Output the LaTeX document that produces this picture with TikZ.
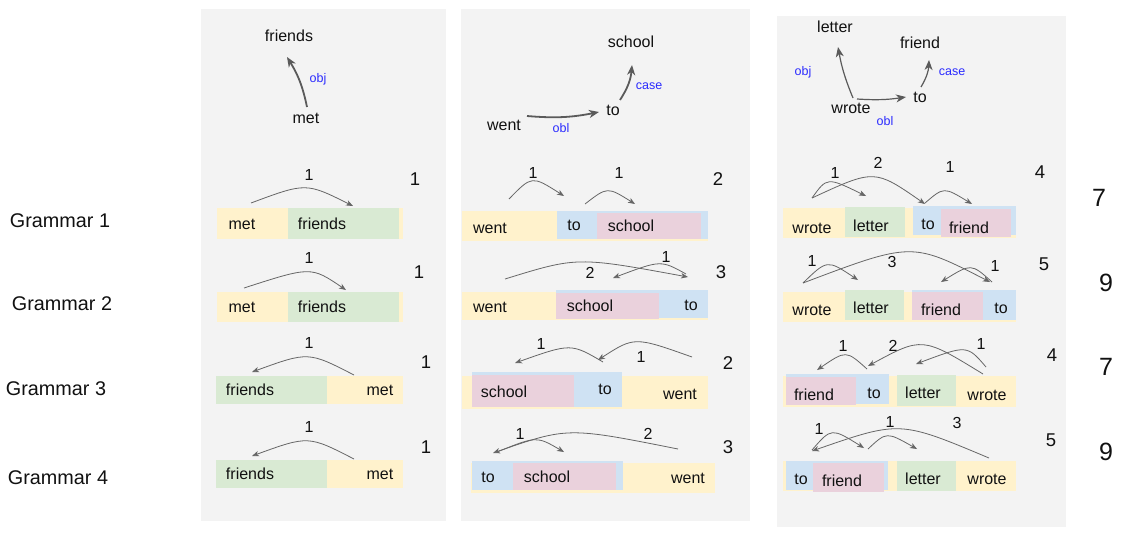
\documentclass[tikz,border=0pt]{standalone}
\usepackage{fontspec}
\setmainfont{Liberation Sans}
\usetikzlibrary{arrows.meta}
\definecolor{panelbg}{HTML}{F3F3F3}
\definecolor{yel}{HTML}{FFF2CC}
\definecolor{grn}{HTML}{D9EAD3}
\definecolor{blu}{HTML}{CFE2F3}
\definecolor{pnk}{HTML}{EAD1DC}
\definecolor{relblue}{HTML}{2B2BFF}
\definecolor{arcgray}{HTML}{666666}
\definecolor{treegray}{HTML}{5A5A5A}
\definecolor{txt}{HTML}{111111}
\newcounter{arcn}
\newcommand\darc[6]{\stepcounter{arcn}%
 \coordinate (as\thearcn) at (#1,#2);\coordinate (ae\thearcn) at (#5,#6);%
 \pgfmathsetmacro\arcCX{(#3-0.125*(#1+#5))/0.75}%
 \pgfmathsetmacro\arcCY{(#4-0.125*(#2+#6))/0.75}%
 \draw[deparc] (as\thearcn) .. controls (\arcCX,\arcCY) and (\arcCX,\arcCY) .. (ae\thearcn);}
\newcommand\wnode[4]{\node[wd] (#1) at (#2,#3) {#4};}
\newcommand\lnode[4]{\node[lab] (#1) at (#2,#3) {#4};}
\newcommand\cnode[4]{\node[cnt] (#1) at (#2,#3) {#4};}
\newcommand\rbox[5]{\fill[#1] (#2,#3) rectangle (#4,#5);}
\begin{document}
\begin{tikzpicture}[x=1pt,y=-1pt,
  wd/.style={font=\fontsize{16}{19}\selectfont, text=txt, inner sep=0pt, text height=11.5pt, text depth=0pt, anchor=center},
  lab/.style={font=\fontsize{16}{19}\selectfont, text=txt, inner sep=0pt, text height=11.5pt, text depth=0pt, anchor=center},
  cnt/.style={font=\fontsize{18.5}{22}\selectfont, text=txt, inner sep=0pt, text height=13.3pt, text depth=0pt, anchor=center},
  tot/.style={font=\fontsize{25}{30}\selectfont, text=txt, inner sep=0pt, text height=18pt, text depth=0pt, anchor=center},
  gram/.style={font=\fontsize{19.8}{24}\selectfont, text=txt, inner sep=0pt, text height=14.2pt, text depth=0pt, anchor=center},
  rel/.style={font=\fontsize{12.5}{15}\selectfont, text=relblue, inner sep=0pt, text height=9pt, text depth=0pt, anchor=center},
  deparc/.style={draw=arcgray, line width=0.8pt, -{Stealth[length=7pt,width=5.5pt,inset=2pt]}},
  treearr/.style={draw=treegray, line width=1.8pt, -{Stealth[length=10pt,width=8pt,inset=3pt]}}
]
\fill[white] (0,0) rectangle (1126,533);
\useasboundingbox (0,0) rectangle (1126,533);
% panels
\fill[panelbg] (201,9) rectangle (446,521);
\fill[panelbg] (461,9) rectangle (750,521);
\fill[panelbg] (777,16) rectangle (1066,527);

% grammar labels
\node[gram] (g1) at (60,220) {Grammar 1};
\node[gram] (g2) at (62,303) {Grammar 2};
\node[gram] (g3) at (56,388) {Grammar 3};
\node[gram] (g4) at (58,477) {Grammar 4};

% totals
\node[tot] (t1) at (1099,197) {7};
\node[tot] (t2) at (1106,282) {9};
\node[tot] (t3) at (1106,366) {7};
\node[tot] (t4) at (1106,451) {9};

% ================= Panel 1 =================
\wnode{aTf}{289}{36}{friends}
\wnode{aTm}{306}{118}{met}
\coordinate (aT1s) at (307,107); \coordinate (aT1e) at (287,57);
\draw[treearr] (aT1s) to[bend right=10] (aT1e);
\node[rel] (aTobj) at (318,78) {obj};

\rbox{yel}{217}{208}{403}{239}
\rbox{grn}{288}{208}{399}{239}
\rbox{yel}{217}{292}{403}{322}
\rbox{grn}{288}{292}{399}{322}
\rbox{grn}{216}{376}{327}{404}
\rbox{yel}{327}{376}{403}{404}
\rbox{grn}{216}{460}{327}{488}
\rbox{yel}{327}{460}{403}{488}

\wnode{a1m}{242}{224}{met}
\wnode{a1f}{322}{224}{friends}
\wnode{a2m}{242}{307}{met}
\wnode{a2f}{322}{307}{friends}
\wnode{a3f}{250}{390}{friends}
\wnode{a3m}{380}{390}{met}
\wnode{a4f}{250}{474}{friends}
\wnode{a4m}{380}{474}{met}

\darc{251}{203}{305}{188}{353}{206}
\darc{244}{288}{307}{272}{346}{290}
\darc{354}{375}{307}{357}{252}{372}
\darc{354}{459}{307}{441}{252}{456}
\lnode{a1l}{309}{175}{1}
\lnode{a2l}{309}{258}{1}
\lnode{a3l}{309}{343}{1}
\lnode{a4l}{309}{427}{1}
\cnode{a1c}{415}{179}{1}
\cnode{a2c}{419}{272}{1}
\cnode{a3c}{426}{362}{1}
\cnode{a4c}{426}{447}{1}

% ================= Panel 2 =================
\wnode{bTs}{631}{42}{school}
\wnode{bTt}{613}{110}{to}
\wnode{bTw}{504}{125}{went}
\coordinate (bT1s) at (527,116); \coordinate (bT1e) at (599,112);
\coordinate (bT2s) at (620,100); \coordinate (bT2e) at (632,65);
\draw[treearr] (bT1s) to[bend right=8] (bT1e);
\draw[treearr] (bT2s) to[bend right=14] (bT2e);
\node[rel] (bTobl) at (561,128) {obl};
\node[rel] (bTcase) at (649,85) {case};

\rbox{yel}{462}{211}{708}{241}
\rbox{blu}{557}{211}{708}{239}
\rbox{pnk}{597}{213}{701}{239}
\rbox{yel}{462}{292}{708}{320}
\rbox{blu}{556}{290}{708}{318}
\rbox{pnk}{556}{293}{659}{319}
\rbox{yel}{462}{376}{708}{409}
\rbox{blu}{472}{372}{622}{407}
\rbox{pnk}{472}{375}{574}{407}
\rbox{yel}{471}{463}{715}{493}
\rbox{blu}{472}{461}{623}{490}
\rbox{pnk}{513}{463}{616}{490}

\wnode{b1w}{490}{228}{went}
\wnode{b1t}{574}{225}{to}
\wnode{b1s}{631}{226}{school}
\wnode{b2w}{490}{307}{went}
\wnode{b2s}{590}{306}{school}
\wnode{b2t}{691}{305}{to}
\wnode{b3s}{504}{392}{school}
\wnode{b3t}{605}{389}{to}
\wnode{b3w}{680}{394}{went}
\wnode{b4t}{488}{477}{to}
\wnode{b4s}{547}{477}{school}
\wnode{b4w}{688}{478}{went}

\darc{509}{199}{533}{181}{564}{196}
\darc{585}{204}{608}{191}{635}{204}
\darc{505}{279}{582}{262}{688}{277}
\darc{686}{274}{658}{264}{613}{278}
\darc{692}{357}{637}{342}{598}{360}
\darc{603}{362}{568}{348}{515}{363}
\darc{678}{449}{572}{433}{493}{453}
\darc{497}{452}{535}{440}{564}{452}
\lnode{b1l1}{533}{173}{1}
\lnode{b1l2}{619}{173}{1}
\lnode{b2l1}{590}{273}{2}
\lnode{b2l2}{666}{257}{1}
\lnode{b3l1}{641}{357}{1}
\lnode{b3l2}{541}{344}{1}
\lnode{b4l1}{648}{434}{2}
\lnode{b4l2}{520}{434}{1}
\cnode{b1c}{718}{179}{2}
\cnode{b2c}{721}{272}{3}
\cnode{b3c}{728}{363}{2}
\cnode{b4c}{728}{447}{3}

% ================= Panel 3 =================
\wnode{cTl}{835}{27}{letter}
\wnode{cTf}{920}{43}{friend}
\wnode{cTt}{920}{97}{to}
\wnode{cTw}{851}{108}{wrote}
\coordinate (cT1s) at (853,98); \coordinate (cT1e) at (838,47);
\coordinate (cT2s) at (857,99); \coordinate (cT2e) at (906,97);
\coordinate (cT3s) at (921,87); \coordinate (cT3e) at (929,60);
\draw[treearr,line width=1.2pt] (cT1s) to[bend left=6] (cT1e);
\draw[treearr,line width=1.2pt] (cT2s) to[bend right=6] (cT2e);
\draw[treearr,line width=1.2pt] (cT3s) to[bend right=14] (cT3e);
\node[rel] (cTobj) at (803,71) {obj};
\node[rel] (cTcase) at (952,71) {case};
\node[rel] (cTobl) at (885,121) {obl};

\rbox{yel}{783}{208}{1016}{238}
\rbox{grn}{845}{207}{905}{237}
\rbox{blu}{913}{206}{1016}{235}
\rbox{pnk}{941}{209}{1011}{237}
\rbox{yel}{783}{292}{1016}{322}
\rbox{grn}{845}{290}{904}{320}
\rbox{blu}{912}{290}{1016}{320}
\rbox{pnk}{912}{292}{983}{320}
\rbox{yel}{783}{376}{1016}{407}
\rbox{blu}{786}{374}{889}{404}
\rbox{pnk}{786}{377}{856}{405}
\rbox{grn}{897}{375}{956}{406}
\rbox{yel}{783}{461}{1016}{491}
\rbox{blu}{786}{461}{888}{490}
\rbox{pnk}{813}{463}{884}{492}
\rbox{grn}{897}{461}{956}{491}

\wnode{c1w}{812}{228}{wrote}
\wnode{c1l}{871}{226}{letter}
\wnode{c1t}{928}{224}{to}
\wnode{c1f}{969}{228}{friend}
\wnode{c2w}{812}{310}{wrote}
\wnode{c2l}{871}{308}{letter}
\wnode{c2f}{941}{310}{friend}
\wnode{c2t}{1001}{308}{to}
\wnode{c3f}{814}{395}{friend}
\wnode{c3t}{874}{393}{to}
\wnode{c3l}{923}{393}{letter}
\wnode{c3w}{987}{395}{wrote}
\wnode{c4t}{801}{479}{to}
\wnode{c4f}{842}{481}{friend}
\wnode{c4l}{923}{479}{letter}
\wnode{c4w}{987}{479}{wrote}

\darc{812}{198}{830}{182}{866}{196}
\darc{812}{198}{873}{177}{925}{204}
\darc{925}{203}{945}{191}{972}{204}
\darc{803}{283}{828}{265}{858}{280}
\darc{803}{283}{908}{252}{990}{282}
\darc{992}{282}{970}{268}{941}{282}
\darc{867}{369}{845}{355}{817}{370}
\darc{983}{374}{923}{345}{868}{366}
\darc{986}{367}{963}{350}{916}{364}
\darc{812}{450}{833}{433}{864}{448}
\darc{868}{449}{888}{436}{917}{449}
\darc{989}{458}{900}{429}{812}{451}
\lnode{c1l1}{835}{173}{1}
\lnode{c1l2}{878}{163}{2}
\lnode{c1l3}{950}{167}{1}
\lnode{c2l1}{812}{261}{1}
\lnode{c2l2}{892}{262}{3}
\lnode{c2l3}{995}{266}{1}
\lnode{c3l1}{843}{346}{1}
\lnode{c3l2}{893}{346}{2}
\lnode{c3l3}{981}{344}{1}
\lnode{c4l1}{819}{429}{1}
\lnode{c4l2}{890}{422}{1}
\lnode{c4l3}{957}{423}{3}
\cnode{c1c}{1040}{172}{4}
\cnode{c2c}{1044}{264}{5}
\cnode{c3c}{1052}{355}{4}
\cnode{c4c}{1051}{440}{5}
\end{tikzpicture}
\end{document}
